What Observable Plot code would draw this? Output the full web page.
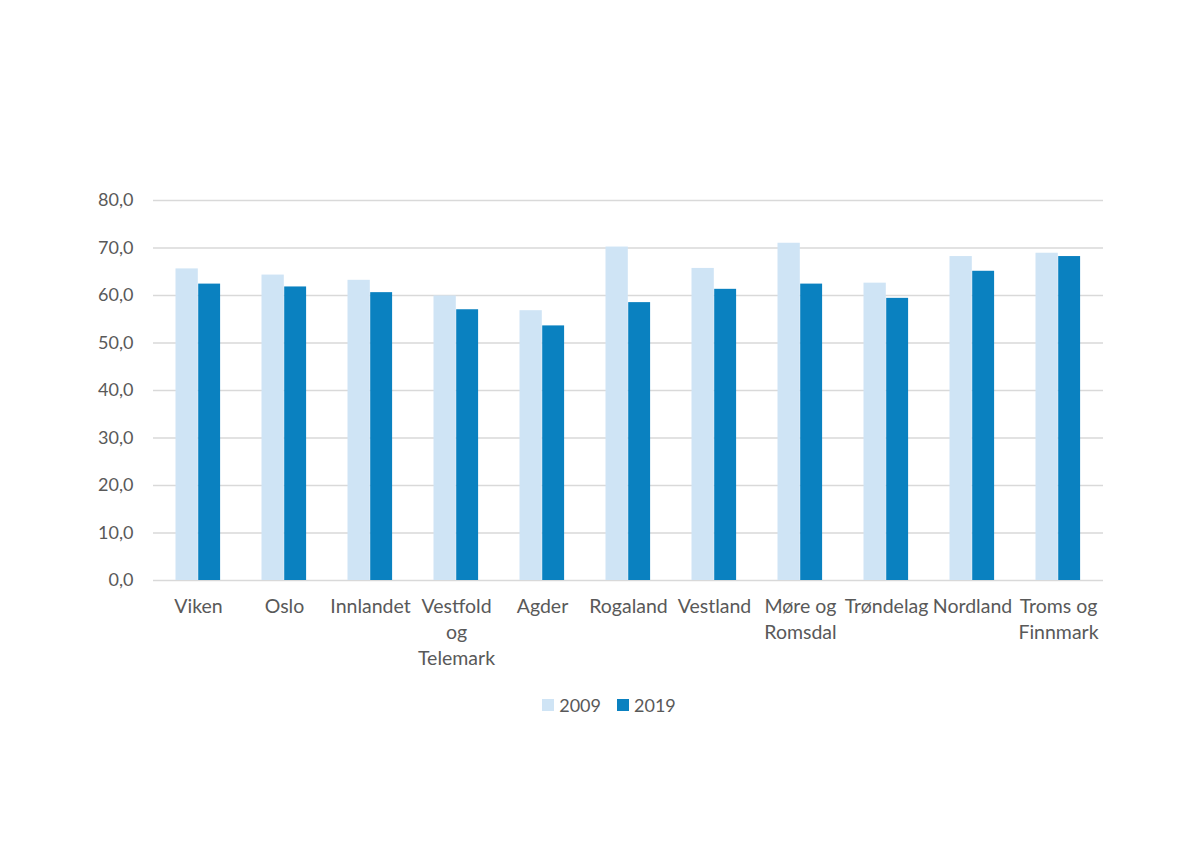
<!DOCTYPE html>
<html>
<head>
<meta charset="utf-8">
<script src="https://cdn.jsdelivr.net/npm/d3@7"></script>
<script src="https://cdn.jsdelivr.net/npm/@observablehq/plot@0.6"></script>
<style>
  html, body { margin: 0; padding: 0; background: #fff; }
  body { width: 1200px; height: 857px; font-family: Lato, "Open Sans", sans-serif; color: #595959; }
  #chart svg { display: block; }
  #legend { display: flex; justify-content: center; align-items: center; gap: 16px; font-size: 18px; color: #595959; margin-top: 14px; padding-left: 18px; }
  #legend .item { display: flex; align-items: center; gap: 5px; }
  #legend .sw { width: 12px; height: 12px; display: inline-block; }
</style>
</head>
<body>
<div id="chart"></div>
<div id="legend"></div>
<script>
const regions = ["Viken", "Oslo", "Innlandet", "Vestfold og Telemark", "Agder", "Rogaland", "Vestland", "Møre og Romsdal", "Trøndelag", "Nordland", "Troms og Finnmark"];
const regionLabels = ["Viken", "Oslo", "Innlandet", "Vestfold\nog\nTelemark", "Agder", "Rogaland", "Vestland", "Møre og\nRomsdal", "Trøndelag", "Nordland", "Troms og\nFinnmark"];
const values2009 = [65.6, 64.3, 63.2, 59.9, 56.8, 70.2, 65.7, 71.0, 62.6, 68.2, 68.9];
const values2019 = [62.4, 61.8, 60.6, 57.0, 53.6, 58.5, 61.3, 62.4, 59.4, 65.1, 68.2];
const years = ["2009", "2019"];
const colors = ["#cfe4f5", "#0a81c0"];
const yTicks = [0, 10, 20, 30, 40, 50, 60, 70, 80];

const d2009 = regions.map((r, i) => ({region: r, value: values2009[i]}));
const d2019 = regions.map((r, i) => ({region: r, value: values2019[i]}));
const labelOf = new Map(regions.map((r, i) => [r, regionLabels[i]]));
const fmt = d => d3.format(".1f")(d).replace(".", ",");

const chart = Plot.plot({
  width: 1200,
  height: 680,
  marginTop: 200,
  marginBottom: 100,
  marginLeft: 153,
  marginRight: 97,
  style: {fontFamily: "Lato, 'Open Sans', sans-serif", fontSize: "18px", color: "#595959", background: "#fff"},
  x: {domain: regions, padding: 0, label: null},
  y: {domain: [0, 80], label: null},
  marks: [
    Plot.ruleY(yTicks, {stroke: "#d9d9d9", strokeWidth: 1.5}),
    Plot.barY(d2009, {x: "region", y: "value", fill: colors[0], insetLeft: 20.5, insetRight: 43.2}),
    Plot.barY(d2019, {x: "region", y: "value", fill: colors[1], insetLeft: 43.2, insetRight: 20.9}),
    Plot.axisY({ticks: yTicks, tickSize: 0, tickPadding: 20, tickFormat: fmt, fill: "#595959", fontSize: 18}),
    Plot.axisX({tickSize: 0, tickPadding: 14, tickFormat: d => labelOf.get(d), lineHeight: 1.33, fill: "#595959", fontSize: 19.5})
  ]
});
document.getElementById("chart").appendChild(chart);

const legend = document.getElementById("legend");
years.forEach((y, i) => {
  const item = document.createElement("div");
  item.className = "item";
  const sw = document.createElement("span");
  sw.className = "sw";
  sw.style.background = colors[i];
  const t = document.createElement("span");
  t.textContent = y;
  item.appendChild(sw);
  item.appendChild(t);
  legend.appendChild(item);
});
</script>
</body>
</html>
